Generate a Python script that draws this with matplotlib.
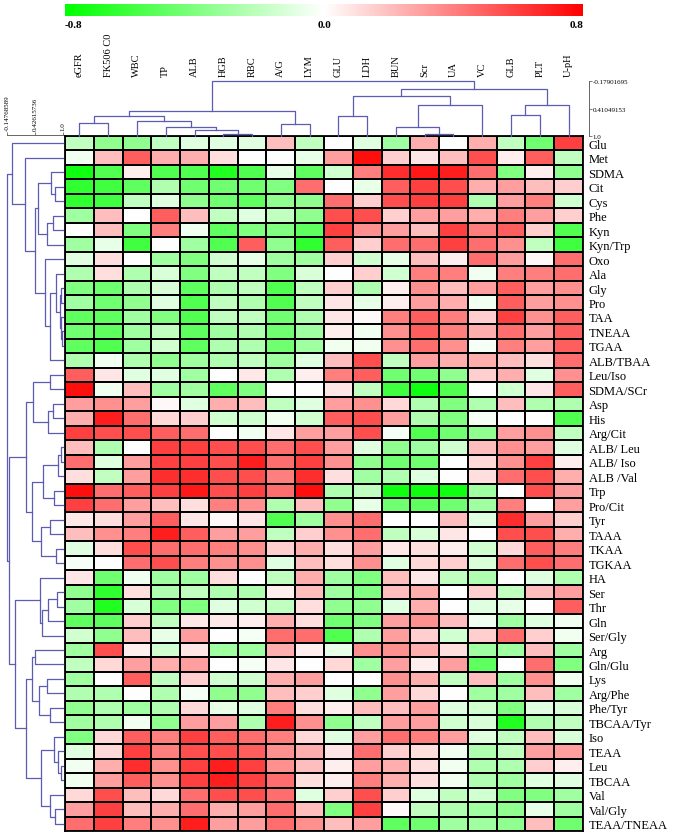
import numpy as np
import matplotlib.pyplot as plt
from matplotlib.colors import LinearSegmentedColormap
from matplotlib.transforms import blended_transform_factory

plt.rcParams['font.family'] = ['Liberation Serif', 'DejaVu Serif']

# column / row labels in clustered order
col_labels = ['eGFR', 'FK506 C0', 'WBC', 'TP', 'ALB', 'HGB', 'RBC', 'A/G', 'LYM',
              'GLU', 'LDH', 'BUN', 'Scr', 'UA', 'VC', 'GLB', 'PLT', 'U-pH']
row_labels = ['Glu', 'Met', 'SDMA', 'Cit', 'Cys', 'Phe', 'Kyn', 'Kyn/Trp', 'Oxo', 'Ala',
              'Gly', 'Pro', 'TAA', 'TNEAA', 'TGAA', 'ALB/TBAA', 'Leu/Iso', 'SDMA/SCr',
              'Asp', 'His', 'Arg/Cit', 'ALB/ Leu', 'ALB/ Iso', 'ALB /Val', 'Trp', 'Pro/Cit',
              'Tyr', 'TAAA', 'TKAA', 'TGKAA', 'HA', 'Ser', 'Thr', 'Gln', 'Ser/Gly', 'Arg',
              'Gln/Glu', 'Lys', 'Arg/Phe', 'Phe/Tyr', 'TBCAA/Tyr', 'Iso', 'TEAA', 'Leu',
              'TBCAA', 'Val', 'Val/Gly', 'TEAA/TNEAA']

# correlation values per column (top row to bottom row)
egfr = [-0.2, -0.05, -0.75, -0.65, -0.65, -0.3, 0, -0.3, -0.1, -0.25, -0.4, -0.3, -0.5, -0.45, -0.5, -0.25,
        0.5, 0.75, 0.3, 0.25, 0.6, 0.2, 0.45, 0.1, 0.75, 0.6, 0.07, 0.2, -0.1, -0.03, 0.08, -0.35,
        -0.3, -0.5, -0.15, -0.3, -0.2, -0.3, -0.25, -0.35, -0.3, -0.4, -0.1, -0.05, -0.05, 0.12, 0.3, 0.45]
fk506 = [-0.35, 0.2, -0.55, -0.6, -0.6, 0.2, 0.2, -0.08, 0.1, 0.1, -0.45, -0.45, -0.5, -0.5, -0.55, -0.05,
         0.08, -0.05, 0.35, 0.7, 0.55, -0.25, -0.1, -0.2, 0.45, 0.45, 0.1, 0.35, 0.1, 0, -0.45, -0.65,
         -0.7, -0.5, -0.35, 0.55, 0.12, 0, -0.25, -0.25, -0.25, 0.12, 0.12, 0.25, 0.3, 0.55, 0.6, 0.6]
wbc = [-0.35, 0.5, 0.05, -0.5, -0.2, 0, -0.4, -0.6, 0, -0.25, -0.25, -0.35, -0.3, -0.3, -0.3, -0.25,
       -0.1, 0.2, 0.3, 0.45, 0.55, 0, 0.3, 0.3, 0.5, 0.3, 0.3, 0.4, 0.55, 0.45, -0.05, 0.1,
       -0.12, 0.15, 0.2, 0.05, 0.3, 0.5, 0, -0.3, -0.05, 0.5, 0.6, 0.65, 0.5, 0.2, 0.2, 0.4]
tp = [-0.2, 0.25, -0.55, -0.25, -0.1, 0.5, 0.4, 0, -0.3, -0.12, -0.12, -0.1, -0.4, -0.2, -0.15, -0.35,
      -0.1, -0.3, 0.02, 0.12, 0.5, 0.6, 0.6, 0.65, 0.6, 0.2, 0.5, 0.7, 0.45, 0.55, -0.3, -0.25,
      -0.4, -0.2, -0.08, -0.15, 0.25, -0.2, -0.25, -0.25, -0.35, 0.4, 0.4, 0.35, 0.35, 0.12, 0.25, 0.35]
alb = [-0.1, 0.25, -0.55, -0.45, -0.35, 0.2, -0.05, -0.3, -0.4, -0.4, -0.5, -0.55, -0.55, -0.5, -0.5, -0.3,
       -0.3, -0.3, -0.1, 0.15, 0.45, 0.6, 0.6, 0.65, 0.72, 0.1, 0.08, 0.5, 0.45, 0.4, -0.3, -0.2,
       -0.4, 0.07, 0.3, 0.08, 0.3, 0.15, -0.03, 0.12, 0.3, 0.6, 0.55, 0.6, 0.6, 0.45, 0.45, 0.7]
hgb = [-0.1, 0.1, -0.7, -0.45, -0.45, -0.2, -0.5, -0.55, -0.15, -0.2, -0.25, -0.2, -0.2, -0.3, -0.25, -0.25,
       0, -0.5, 0.25, -0.15, 0, 0.55, 0.55, 0.55, 0.55, 0.4, 0.02, 0.3, 0.4, 0.35, 0.1, -0.25,
       -0.1, 0.07, 0, -0.3, 0, -0.15, -0.35, -0.08, 0.3, 0.5, 0.55, 0.7, 0.7, 0.55, 0.25, 0.3]
rbc = [-0.1, 0, -0.55, -0.45, -0.5, -0.1, -0.4, 0.5, -0.08, -0.2, -0.2, -0.25, -0.2, -0.25, -0.25, -0.2,
       0.07, -0.4, 0.2, -0.15, -0.05, 0.55, 0.7, 0.55, 0.6, 0.35, 0.08, 0.3, 0.35, 0.35, 0, -0.25,
       -0.15, 0.05, -0.03, -0.3, -0.03, -0.15, -0.35, -0.1, -0.25, 0.45, 0.5, 0.6, 0.6, 0.55, 0.3, 0.3]
ag = [0.2, 0, -0.08, -0.4, -0.35, -0.2, -0.4, -0.35, -0.3, -0.4, -0.55, -0.55, -0.45, -0.45, -0.45, -0.3,
      -0.25, 0, -0.2, -0.05, 0.08, 0.45, 0.45, 0.4, 0.45, -0.25, -0.55, -0.2, 0.15, -0.1, -0.2, 0.05,
      -0.2, 0.25, 0.45, 0.25, 0.08, 0.25, 0.2, 0.4, 0.7, 0.4, 0.35, 0.35, 0.45, 0.45, 0.45, 0.45]
lym = [-0.2, -0.07, -0.5, 0.45, -0.35, -0.35, -0.5, -0.65, -0.3, -0.12, -0.2, -0.2, -0.25, -0.3, -0.3, -0.1,
       0.05, 0, -0.1, -0.15, 0.3, 0.55, 0.6, 0.65, 0.75, 0.2, -0.3, 0.15, 0.25, 0.2, 0.25, 0.2,
       0.1, 0.1, 0.45, 0.05, 0, 0.3, 0.15, 0.1, 0.35, 0.12, 0.25, 0.2, 0.1, -0.1, 0.2, 0.35]
glu = [0, 0.3, -0.15, 0, 0.45, 0.55, 0.6, 0.5, 0.15, 0, 0.15, 0.08, 0.08, 0.05, -0.05, 0.2,
       0.4, 0.08, 0.3, 0.5, 0.3, 0.3, 0.35, 0.1, -0.25, -0.35, 0.35, 0.35, 0.1, 0.1, -0.3, -0.3,
       -0.35, -0.45, -0.55, -0.08, 0.12, 0, -0.1, 0.05, -0.35, -0.1, 0.08, 0.05, 0.05, 0.15, -0.4, 0.2]
ldh = [-0.1, 0.75, 0.4, -0.07, 0.15, 0.55, 0.35, 0.15, -0.15, 0.15, -0.25, -0.08, 0.02, -0.05, -0.05, 0.55,
       0.5, -0.2, 0.35, 0.55, 0.55, -0.1, -0.35, -0.3, -0.2, -0.08, 0.45, 0.45, 0.3, 0.35, -0.4, -0.4,
       -0.35, -0.4, -0.25, 0.35, -0.3, 0, -0.35, 0.2, -0.2, 0.3, 0.45, 0.3, 0.4, 0.55, 0.6, 0.3]
bun = [-0.3, 0.15, 0.65, 0.5, 0.55, 0.15, 0.3, 0.45, -0.08, -0.15, 0.05, 0.05, 0.4, 0.35, 0.35, -0.2,
       -0.45, -0.6, 0.12, 0.3, -0.03, -0.35, -0.45, -0.25, -0.75, -0.45, 0, -0.2, 0.07, -0.1, 0.2, 0.2,
       -0.1, 0.3, 0.3, 0.35, 0.3, 0.35, 0.3, 0.2, 0.3, 0.45, 0.15, 0.25, 0.25, 0.15, 0.02, -0.5]
scr = [0.25, 0.08, 0.72, 0.6, 0.6, 0.3, 0.2, 0.45, 0.2, 0.4, 0.35, 0.3, 0.5, 0.5, 0.45, 0.3,
       -0.45, -0.75, -0.25, -0.25, -0.55, -0.3, -0.45, -0.1, -0.75, -0.5, 0, -0.12, 0.1, 0.12, 0.07, 0.25,
       0.25, 0.35, 0.15, 0.25, 0.05, 0.25, 0.12, 0.3, 0.3, 0.4, 0.1, 0.1, 0.1, -0.1, -0.2, -0.45]
ua = [0, 0.2, 0.7, 0.55, 0.6, 0.3, 0.6, 0.6, 0.05, 0.4, 0.2, 0.25, 0.4, 0.4, 0.35, 0.25,
      -0.35, -0.55, -0.4, -0.4, -0.45, -0.15, 0, 0, -0.75, -0.45, 0.2, 0.08, 0.05, 0.15, -0.2, 0,
      0, 0.2, -0.15, 0.1, 0.3, -0.2, 0, -0.1, -0.15, 0.3, -0.05, -0.05, -0.05, -0.2, -0.25, -0.3]
vc = [0.25, 0.55, 0.45, 0.25, -0.25, 0.25, 0.4, 0.45, 0.45, -0.05, 0.3, -0.05, 0.15, 0.25, -0.03, 0.25,
      0.15, 0, -0.25, -0.03, -0.35, 0.2, 0.12, 0.1, -0.3, -0.3, -0.1, 0, -0.15, -0.12, -0.25, 0.15,
      -0.1, -0.05, 0.15, -0.3, -0.5, 0.2, -0.3, -0.15, -0.12, -0.1, -0.25, -0.25, -0.25, -0.15, -0.3, -0.3]
glb = [-0.2, 0.05, -0.4, 0.3, 0.3, 0.4, 0.5, 0.35, 0.3, 0.4, 0.5, 0.5, 0.6, 0.45, 0.4, 0.2,
       0.25, -0.15, 0.2, 0, 0.3, 0.35, 0.35, 0.45, 0, 0.4, 0.65, 0.55, 0.12, 0.45, 0, -0.2,
       -0.08, -0.3, 0.45, -0.3, 0, -0.3, -0.3, -0.4, -0.7, -0.2, -0.2, -0.25, -0.3, -0.4, -0.35, -0.35]
plt_ = [-0.45, 0.5, 0.05, 0.2, 0.4, 0.3, 0.15, -0.2, 0.03, 0.4, 0.3, 0.3, 0.35, 0.3, 0.3, 0.1,
        -0.1, 0.08, -0.25, 0, 0.35, 0.3, 0.6, 0.55, 0.55, 0, 0.3, 0.55, 0.5, 0.55, -0.1, 0.2,
        0, -0.1, 0.15, 0.2, 0.45, 0.35, 0.2, -0.1, -0.25, 0.2, 0.3, 0.15, -0.1, -0.4, -0.08, 0.2]
uph = [0.6, -0.2, -0.35, 0.15, -0.15, 0.15, -0.55, -0.6, 0.45, 0.45, 0.35, 0.35, 0.5, 0.5, 0.5, 0.45,
       0.35, 0.5, -0.25, -0.55, -0.2, -0.1, 0.05, 0.25, 0.3, 0.3, 0.15, 0.25, 0.4, 0.45, -0.25, 0.3,
       0.5, -0.05, -0.05, -0.3, -0.4, -0.05, -0.3, -0.12, -0.2, -0.12, 0.3, 0.05, -0.1, -0.3, -0.3, -0.45]

# dendrograms: [merge similarity, left, right], leaves are labels
col_tree = [-0.179,
            [0.472,
             [0.581, [0.711, 'eGFR', 'FK506 C0'],
              [0.689, 'WBC', [0.798, 'TP', [0.870, 'ALB', [0.957, 'HGB', 'RBC']]]]],
             [0.747, 'A/G', 'LYM']],
            [0.002,
             [0.132, [0.566, 'GLU', 'LDH'],
              [0.328, [0.812, 'BUN', [0.957, 'Scr', 'UA']], 'VC']],
             [0.33, [0.544, 'GLB', 'PLT'], 'U-pH']]]

row_top = [-0.055, 'Glu',
           [0.223, 'Met',
            [0.426,
             [0.493, [0.764, 'SDMA', [0.831, 'Cit', 'Cys']],
              [0.662, [0.797, 'Phe', 'Kyn'], 'Kyn/Trp']],
             [0.628, 'Oxo',
              [0.730,
               [0.865, 'Ala', [0.932, [0.966, 'Gly', 'Pro'],
                               [0.966, 'TAA', [0.986, 'TNEAA', 'TGAA']]]],
               'ALB/TBAA']]]]]
row_mid = [0.236,
           [0.378, [0.743, 'Leu/Iso', 'SDMA/SCr'],
            [0.696, [0.797, 'Asp', 'His'], 'Arg/Cit']],
           [0.358,
            [0.581, [0.899, [0.953, 'ALB/ Leu', 'ALB/ Iso'], 'ALB /Val'],
             [0.811, 'Trp', 'Pro/Cit']],
            [0.541, [0.743, 'Tyr', 'TAAA'], [0.865, 'TKAA', 'TGKAA']]]]
row_bottom = [0.020,
              [0.527, 'HA', [0.561, [0.696, [0.878, 'Ser', 'Thr'], 'Gln'], 'Ser/Gly']],
              [0.243,
               [0.358, [0.426, 'Arg', 'Gln/Glu'],
                [0.514, [0.682, 'Lys', 'Arg/Phe'], [0.743, 'Phe/Tyr', 'TBCAA/Tyr']]],
               [0.541,
                [0.811, 'Iso', [0.899, 'TEAA', [0.966, 'Leu', 'TBCAA']]],
                [0.743, 'Val', [0.831, 'Val/Gly', 'TEAA/TNEAA']]]]]
row_tree = [-0.1477, row_top, [-0.115, row_mid, row_bottom]]

values = np.array([egfr, fk506, wbc, tp, alb, hgb, rbc, ag, lym,
                   glu, ldh, bun, scr, ua, vc, glb, plt_, uph]).T

line_color = '#5c5cb5'


def draw_tree(ax, node, order, horizontal):
    # returns (leaf position, height) of this node
    if isinstance(node, str):
        return order.index(node) + 0.5, 1.0
    h, left, right = node
    p1, h1 = draw_tree(ax, left, order, horizontal)
    p2, h2 = draw_tree(ax, right, order, horizontal)
    pos = [p1, p1, p2, p2]
    hts = [h1, h, h, h2]
    if horizontal:
        ax.plot(pos, hts, color=line_color, lw=0.9, clip_on=False)
    else:
        ax.plot(hts, pos, color=line_color, lw=0.9, clip_on=False)
    return (p1 + p2) / 2, h


W, H = 685, 837
fig = plt.figure(figsize=(W / 100, H / 100), dpi=100)


def px_axes(x0, y0, x1, y1):
    return fig.add_axes([x0 / W, 1 - y1 / H, (x1 - x0) / W, (y1 - y0) / H])


cmap = LinearSegmentedColormap.from_list('gwr', ['#00ff00', '#ffffff', '#ff0000'])

# heatmap
ax = px_axes(65, 137, 583, 832)
mesh = ax.pcolormesh(values, cmap=cmap, vmin=-0.8, vmax=0.8,
                     edgecolors='black', linewidth=1.3)
ax.set_xlim(0, len(col_labels))
ax.set_ylim(len(row_labels), 0)
ax.set_xticks([])
ax.yaxis.tick_right()
ax.set_yticks(np.arange(len(row_labels)) + 0.5)
ax.set_yticklabels(row_labels, fontsize=9)
ax.tick_params(axis='y', length=0, pad=4)
for s in ax.spines.values():
    s.set_linewidth(1.3)

# column dendrogram
ax_c = px_axes(65, 82, 583, 137)
draw_tree(ax_c, col_tree, col_labels, True)
ax_c.set_xlim(0, len(col_labels))
ax_c.set_ylim(1.0, -0.17901695)
ax_c.set_xticks([])
for k in ['top', 'bottom', 'left']:
    ax_c.spines[k].set_visible(False)
ax_c.spines['right'].set_position(('outward', 4))
ax_c.spines['right'].set_color('#666666')
ax_c.spines['right'].set_linewidth(0.7)
ax_c.yaxis.tick_right()
ax_c.set_yticks([-0.17901695, 0.41049153, 1.0])
ax_c.set_yticklabels(['-0.17901695', '0.41049153', '1.0'], fontsize=5)
ax_c.tick_params(axis='y', length=2, width=0.6, color='#666666', pad=1)
ax_c.patch.set_alpha(0)

tr = blended_transform_factory(ax_c.transData, ax_c.transAxes)
for i, lab in enumerate(col_labels):
    ax_c.text(i + 0.5, 1.09, lab, transform=tr, rotation=90, ha='center', va='bottom',
              fontsize=7.5)

# row dendrogram
ax_r = px_axes(7, 137, 63, 832)
draw_tree(ax_r, row_tree, row_labels, False)
ax_r.set_xlim(-0.14768589, 1.0)
ax_r.set_ylim(len(row_labels), 0)
ax_r.set_yticks([])
for k in ['right', 'bottom', 'left']:
    ax_r.spines[k].set_visible(False)
ax_r.spines['top'].set_position(('outward', 1))
ax_r.spines['top'].set_color('#666666')
ax_r.spines['top'].set_linewidth(0.7)
ax_r.xaxis.tick_top()
ax_r.set_xticks([-0.14768589, 0.42615736, 1.0])
ax_r.set_xticklabels(['-0.14768589', '0.42615736', '1.0'], fontsize=5, rotation=90)
ax_r.tick_params(axis='x', length=2, width=0.6, color='#666666', pad=1)
ax_r.patch.set_alpha(0)

# colour bar
cax = px_axes(65, 5, 583, 17)
cb = fig.colorbar(mesh, cax=cax, orientation='horizontal')
cb.outline.set_visible(False)
cb.set_ticks([-0.8, 0.0, 0.8])
cb.set_ticklabels(['-0.8', '0.0', '0.8'])
cax.tick_params(length=0, pad=3, labelsize=8)
labs = cax.get_xticklabels()
labs[0].set_ha('left')
labs[-1].set_ha('right')
for t in labs:
    t.set_fontweight('bold')

fig.savefig('out.png', dpi=100)
